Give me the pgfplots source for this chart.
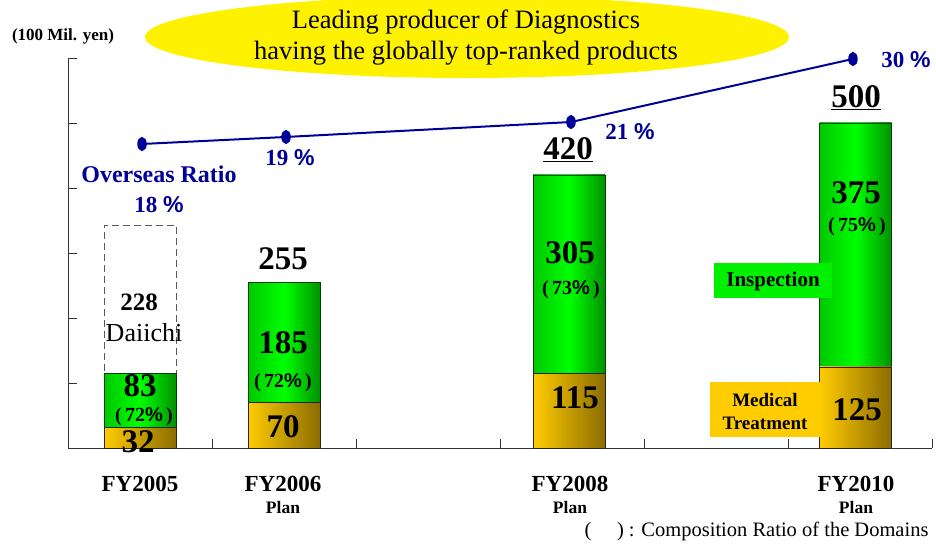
\documentclass[border=0pt]{standalone}
\usepackage{fontspec}
\setmainfont{Liberation Serif}
\newfontfamily\pctf{Liberation Sans}
\usepackage{pgfplots}
\pgfplotsset{compat=1.18}
\definecolor{navy}{RGB}{0,0,153}
\definecolor{gL}{RGB}{0,200,0}
\definecolor{gM}{RGB}{0,255,0}
\definecolor{gR}{RGB}{0,145,0}
\definecolor{oL}{RGB}{255,204,0}
\definecolor{oR}{RGB}{140,108,0}
\definecolor{ybox}{RGB}{255,204,0}
\definecolor{gbox}{RGB}{0,240,0}
\newcommand\pct{{\pctf\bfseries\%}}
\newcommand\fs[1]{\fontsize{#1}{#1}\selectfont}
\pgfplotsset{
  bars/.style={ybar, bar width=72pt, bar shift=0pt},
  med/.style={bars, draw=black!85, left color=oL, right color=oR},
  insp/.style={bars, draw=black!60!green!60!black, left color=gL, right color=gR, middle color=gM},
}
\begin{document}
\begin{tikzpicture}
\useasboundingbox (0,0) rectangle (936pt,546pt);
\begin{scope}[yshift=546pt,x=1pt,y=-1pt]
\fill[yellow] (467,37) ellipse [x radius=322pt, y radius=41pt];
\node[font=\fs{26.5}] at (466,22) {Leading producer of Diagnostics};
\node[font=\fs{26.5}] at (466,53) {having the globally top-ranked products};
\end{scope}
\begin{axis}[at={(68pt,98pt)}, anchor=south west, scale only axis,
  width=864pt, height=390pt, xmin=0, xmax=6, ymin=0, ymax=600,
  axis lines=left, axis line style={-, black!80, line width=0.8pt},
  xtick={0,...,6}, ytick={0,100,...,600}, xticklabels={}, yticklabels={},
  tick align=inside, major tick length=9pt, tick style={black!80, line width=0.8pt}, clip=false]
% FY2005 with Daiichi (115 + 228 = 343), dashed outline
\addplot[bars, draw=black!65, dash pattern=on 7pt off 4pt, fill=none, line width=0.8pt] coordinates {(0.5,343)};
% Inspection + Medical totals (Inspection segment on top of Medical)
\addplot[insp] coordinates {(0.5,115)};   % 32 + 83
\addplot[insp] coordinates {(1.5,255)};   % 70 + 185
\addplot[insp] coordinates {(3.48,420)};  % 115 + 305
\addplot[insp] coordinates {(5.47,500)};  % 125 + 375
% Medical Treatment
\addplot[med] coordinates {(0.5,32)};
\addplot[med] coordinates {(1.5,70)};
\addplot[med] coordinates {(3.48,115)};
\addplot[med] coordinates {(5.47,125)};
\end{axis}
\begin{axis}[at={(68pt,98pt)}, anchor=south west, scale only axis,
  width=864pt, height=390pt, xmin=0, xmax=6, ymin=0, ymax=600,
  axis lines=none, clip=false]
\addplot[navy, line width=2pt, mark=*, mark size=5pt, mark options={xscale=0.75, yscale=1.2}] coordinates {(0.514,467.7) (1.514,478.5) (3.493,501.5) (5.451,598.5)};
\end{axis}
\begin{scope}[yshift=546pt,x=1pt,y=-1pt]
% boxes
\fill[gbox] (714,263) rectangle (832,298);
\node[font=\fs{21}\bfseries] at (773,281) {Inspection};
\fill[ybox] (710,382) rectangle (820,437);
\node[font=\fs{19}\bfseries] at (765,400) {Medical};
\node[font=\fs{19}\bfseries] at (765,423) {Treatment};
% top-left unit
\node[font=\fs{17}\bfseries] at (63,36) {(100 Mil. yen)};
% overseas
\node[font=\fs{24}\bfseries, text=navy] at (159,174) {Overseas Ratio};
\node[font=\fs{23}\bfseries, text=navy] at (159,205) {18 \pct};
\node[font=\fs{23}\bfseries, text=navy] at (290,158) {19 \pct};
\node[font=\fs{23}\bfseries, text=navy] at (630,132) {21 \pct};
\node[font=\fs{23}\bfseries, text=navy] at (906,60) {30 \pct};
% FY2005
\node[font=\fs{25}\bfseries] at (139,302) {228};
\node[font=\fs{26}] at (144,333) {Daiichi};
\node[font=\fs{33}\bfseries] at (140,386) {83};
\node[font=\fs{20}\bfseries] at (144,417) {(\,72\pct\,)};
\node[font=\fs{33}\bfseries, inner sep=0pt] at (138,442) {32};
% FY2006
\node[font=\fs{33}\bfseries] at (283,259) {255};
\node[font=\fs{33}\bfseries] at (283,343) {185};
\node[font=\fs{20}\bfseries] at (283,383) {(\,72\pct\,)};
\node[font=\fs{33}\bfseries] at (283,427) {70};
% FY2008
\node[font=\fs{33}\bfseries] at (568,150) {\underline{420}};
\node[font=\fs{33}\bfseries] at (570,253) {305};
\node[font=\fs{20}\bfseries] at (571,290) {(\,73\pct\,)};
\node[font=\fs{33}\bfseries] at (575,398) {115};
% FY2010
\node[font=\fs{33}\bfseries] at (856,98) {\underline{500}};
\node[font=\fs{33}\bfseries] at (856,193) {375};
\node[font=\fs{20}\bfseries] at (857,227) {(\,75\pct\,)};
\node[font=\fs{33}\bfseries] at (857,410) {125};
% x labels
\node[font=\fs{23}\bfseries] at (140,484) {FY2005};
\node[font=\fs{23}\bfseries] at (283,484) {FY2006};
\node[font=\fs{23}\bfseries] at (570,484) {FY2008};
\node[font=\fs{23}\bfseries] at (856,484) {FY2010};
\node[font=\fs{17.5}\bfseries] at (283,508) {Plan};
\node[font=\fs{17.5}\bfseries] at (570,508) {Plan};
\node[font=\fs{17.5}\bfseries] at (856,508) {Plan};
\node[font=\fs{20.5}, anchor=east] at (932,531) {(\quad\ ) : Composition Ratio of the Domains};
\end{scope}
\end{tikzpicture}
\end{document}
